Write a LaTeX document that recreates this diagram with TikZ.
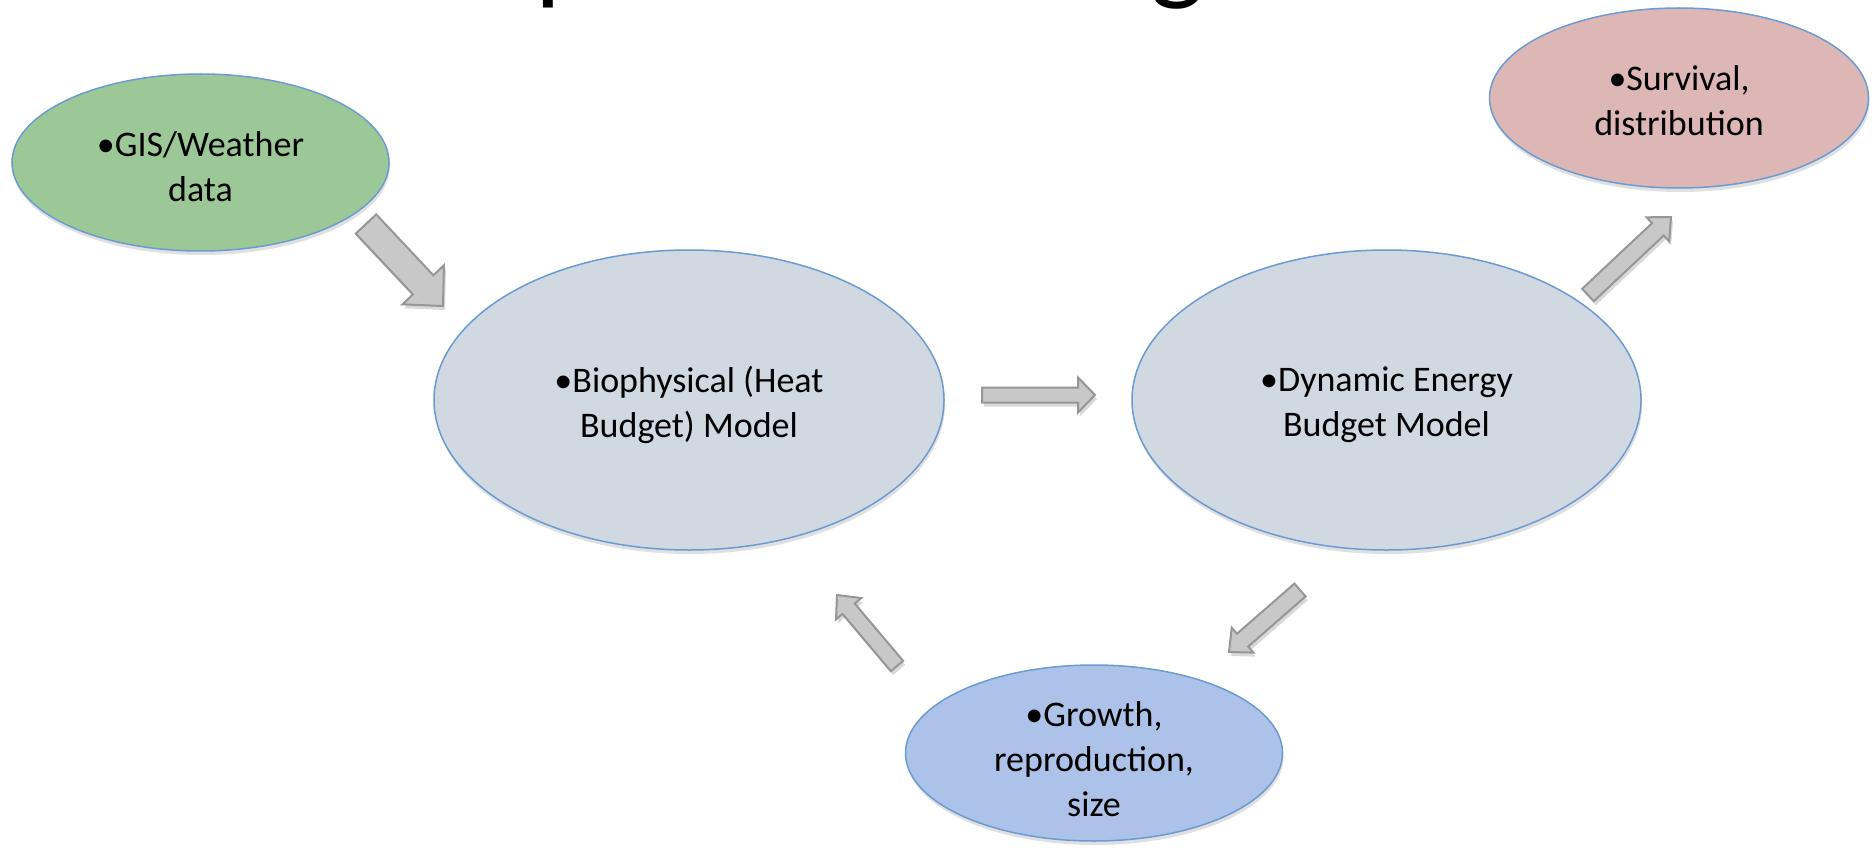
\documentclass[tikz,border=0pt]{standalone}
\usepackage{fontspec}
\setmainfont{Carlito}
\usetikzlibrary{shapes.geometric,calc,shadows}
\definecolor{gisfill}{RGB}{155,200,150}
\definecolor{modelfill}{RGB}{208,216,226}
\definecolor{survfill}{RGB}{220,183,181}
\definecolor{growfill}{RGB}{173,194,233}
\definecolor{bubbleline}{RGB}{108,155,210}
\definecolor{arrowfill}{RGB}{200,200,200}
\definecolor{arrowline}{RGB}{150,150,150}
\tikzset{
  bubble/.style={ellipse, draw=bubbleline, line width=1.5pt, inner sep=0pt,
    drop shadow={shadow xshift=1pt, shadow yshift=-4pt, opacity=0.12, fill=black}},
  bubbletext/.style={inner sep=0pt, align=center, font=\fontsize{36}{45}\selectfont},
  blockarrowstyle/.style={draw=arrowline, fill=arrowfill, line width=2pt, line join=miter,
    drop shadow={shadow xshift=2pt, shadow yshift=-4pt, opacity=0.15, fill=black}},
  titlefrag/.style={anchor=base west, inner sep=0pt, font=\fontsize{115}{120}\selectfont}
}
% #1 tail, #2 tip, #3 shaft half width, #4 head half width, #5 head length
\newcommand\blockarrow[5]{%
  \coordinate (#1-s) at ($(#2)!#5pt!(#1)$);
  \path[blockarrowstyle]
    ($(#1)!#3pt!90:(#2)$) -- ($(#1-s)!#3pt!90:(#2)$) -- ($(#1-s)!#4pt!90:(#2)$)
    -- (#2)
    -- ($(#1-s)!#4pt!-90:(#2)$) -- ($(#1-s)!#3pt!-90:(#2)$) -- ($(#1)!#3pt!-90:(#2)$)
    -- cycle;
}
\begin{document}
\begin{tikzpicture}[x=1pt,y=-1pt]
\useasboundingbox (0,0) rectangle (1876,848);
\clip (0,0) rectangle (1876,848);
\fill[white] (0,0) rectangle (1876,848);

% fragments of the cut-off title (only their descenders are visible)
\node[titlefrag] (titlep) at (535,-10) {p};
\node[titlefrag] (titleg) at (1150,-10) {g};

% ellipses
\node[bubble, fill=gisfill, minimum width=377pt, minimum height=177pt] (gis) at (200.5,162.5) {};
\node[bubble, fill=modelfill, minimum width=510pt, minimum height=300pt] (bio) at (689,400) {};
\node[bubble, fill=modelfill, minimum width=509pt, minimum height=300pt] (deb) at (1386.5,400) {};
\node[bubble, fill=survfill, minimum width=379pt, minimum height=180pt] (surv) at (1679,98) {};
\node[bubble, fill=growfill, minimum width=377pt, minimum height=176pt] (grow) at (1094,753) {};

% texts
\node[bubbletext] (gis-t)  at ($(gis)+(0,4)$)  {•GIS/Weather\\data};
\node[bubbletext] (bio-t)  at ($(bio)+(0,5)$)  {•Biophysical (Heat\\Budget) Model};
\node[bubbletext] (deb-t)  at ($(deb)+(0,5)$)  {•Dynamic Energy\\Budget Model};
\node[bubbletext] (surv-t) at ($(surv)+(0,3)$) {•Survival,\\distribution};
\node[bubbletext] (grow-t) at ($(grow)+(0,6)$) {•Growth,\\reproduction,\\size};

% block arrows
\coordinate (a1) at (366,224);  \coordinate (a1h) at (443,306);
\coordinate (a2) at (982,395);  \coordinate (a2h) at (1095,395);
\coordinate (a3) at (1588,295); \coordinate (a3h) at (1671,217);
\coordinate (a4) at (1300,590); \coordinate (a4h) at (1229,652);
\coordinate (a5) at (897,666);  \coordinate (a5h) at (837,595);
\blockarrow{a1}{a1h}{14}{28.5}{29}
\blockarrow{a2}{a2h}{7.5}{17.5}{17}
\blockarrow{a3}{a3h}{8.5}{16.5}{18}
\blockarrow{a4}{a4h}{8.5}{16.5}{18}
\blockarrow{a5}{a5h}{8}{16.5}{18}
\end{tikzpicture}
\end{document}
